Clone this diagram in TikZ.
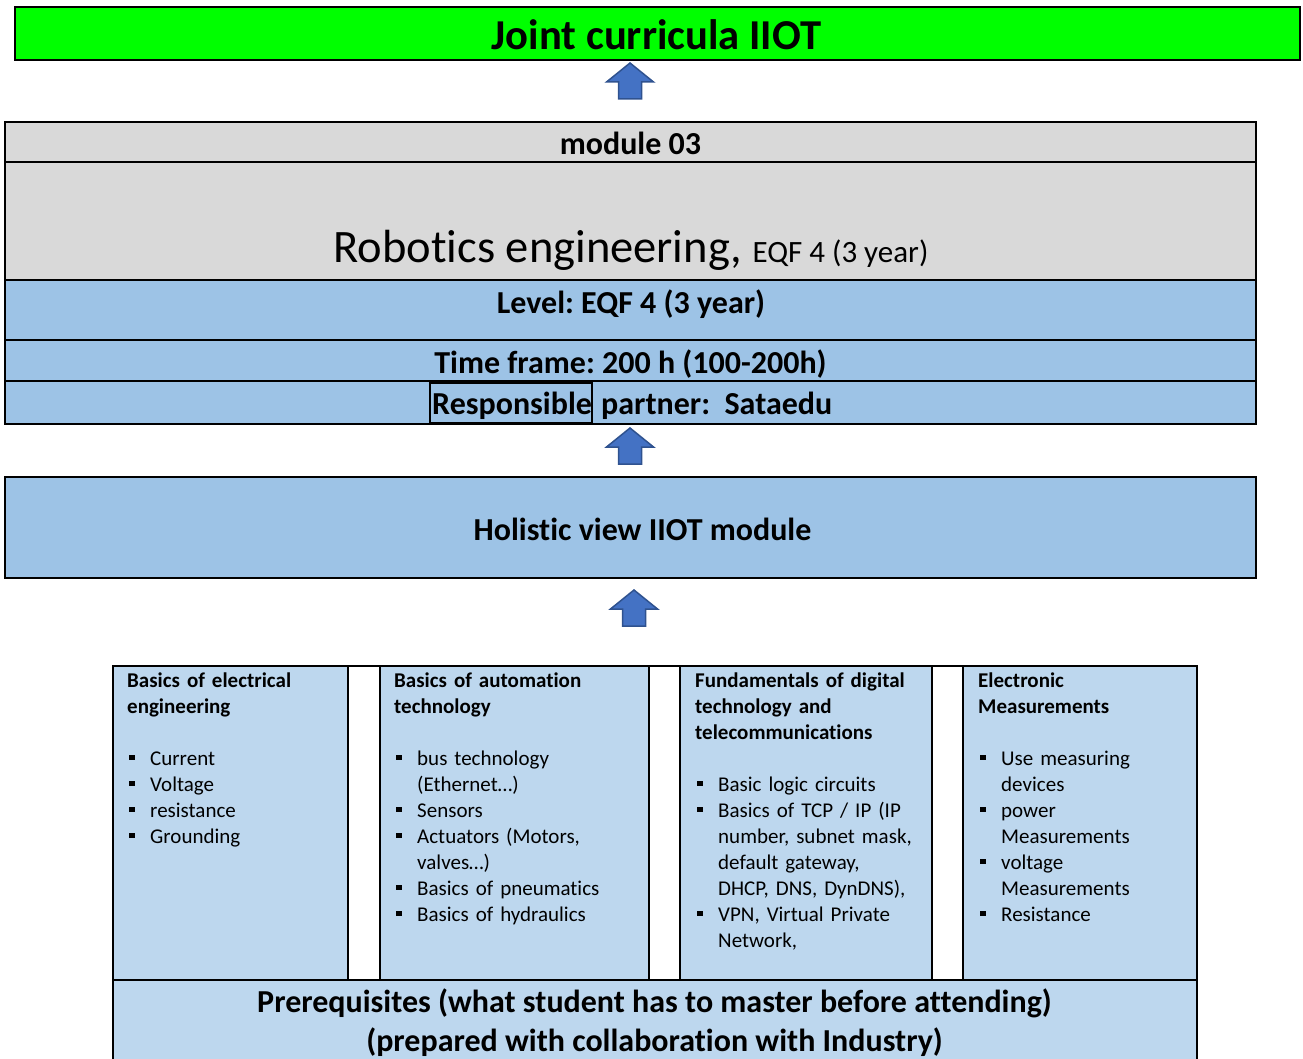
\documentclass[tikz,border=0pt]{standalone}
\usepackage{fontspec}
\setmainfont{Carlito}[Ligatures=NoCommon]
\frenchspacing

\definecolor{topgreen}{HTML}{00FF00}
\definecolor{headgray}{HTML}{D9D9D9}
\definecolor{rowblue}{HTML}{9DC3E6}
\definecolor{cellblue}{HTML}{BDD7EE}
\definecolor{arrowfill}{HTML}{4472C4}
\definecolor{arrowline}{HTML}{2F528F}

% square bullet and hanging continuation for the topic lists
\newcommand\bul{\makebox[23pt][l]{\hspace{2pt}\rule[5pt]{5.5pt}{5.5pt}}}
\newcommand\cont{\hspace*{23pt}}

\tikzset{
  boxline/.style={draw=black, line width=2pt},
  bigbold/.style={font=\fontsize{32}{38}\selectfont\bfseries, inner sep=0pt, anchor=base},
  coltext/.style={font=\fontsize{21}{26}\selectfont, text width=250pt, align=left,
                  inner sep=0pt, anchor=base west},
  pics/uparrow/.style={code={
    \draw[fill=arrowfill, draw=arrowline, line width=1.5pt, line join=miter]
      (0,0) -- (23.5,19) -- (11.5,19) -- (11.5,36) -- (-11.5,36)
      -- (-11.5,19) -- (-23.5,19) -- cycle;}}
}

\begin{document}
\begin{tikzpicture}[x=1pt, y=-1pt]
\useasboundingbox (0,0) rectangle (1303,1059);

% title bar
\draw[boxline, fill=topgreen] (15,7) rectangle (1300,60);
\node[inner sep=0pt, anchor=base, font=\fontsize{42.6}{50}\selectfont\bfseries]
  (title) at (656.5,50) {Joint curricula IIOT};

\pic at (630,63) {uparrow};

% module description block
\fill[headgray] (5,122) rectangle (1256,280);
\fill[rowblue] (5,280) rectangle (1256,424);
\draw[boxline] (5,122) rectangle (1256,424);
\draw[boxline] (5,162) -- (1256,162);
\draw[boxline] (5,280) -- (1256,280);
\draw[boxline] (5,340) -- (1256,340);
\draw[boxline] (5,381) -- (1256,381);

\node[bigbold] (modnum) at (630.5,155) {module 03};
\node[inner sep=0pt, anchor=base] (modname) at (631,262)
  {\fontsize{46.5}{54}\selectfont Robotics engineering,
   \fontsize{31}{36}\selectfont EQF 4 (3 year)};
\node[bigbold] (level) at (631,313) {Level: EQF 4 (3 year)};
\node[bigbold] (time) at (630.5,373) {Time frame: 200 h (100-200h)};
\draw[draw=black, line width=1.5pt] (430,383) rectangle (592,423);
\node[bigbold, anchor=base west] (resp) at (432,414) {Responsible};
\node[bigbold, anchor=base west] (partner) at (601,414) {partner:\ \ Sataedu};

\pic at (630,428) {uparrow};

% holistic view
\draw[boxline, fill=rowblue] (5,477) rectangle (1256,578);
\node[bigbold] (holistic) at (642.5,540) {Holistic view IIOT module};

\pic at (634,590) {uparrow};

% prerequisites table
\fill[cellblue] (113,666) rectangle (1197,1066);
\fill[white] (348,666) rectangle (380,980);
\fill[white] (649,666) rectangle (680,980);
\fill[white] (932,666) rectangle (963,980);
\draw[boxline] (113,666) rectangle (1197,1066);
\foreach \xx in {348,380,649,680,932,963}
  \draw[boxline] (\xx,666) -- (\xx,980);
\draw[boxline] (113,980) -- (1197,980);

\node[coltext] (elec) at (127,687) {%
  \textbf{Basics of electrical}\\
  \textbf{engineering}\\
  \mbox{}\\
  \bul Current\\
  \bul Voltage\\
  \bul resistance\\
  \bul Grounding};

\node[coltext] (auto) at (394,687) {%
  \textbf{Basics of automation}\\
  \textbf{technology}\\
  \mbox{}\\
  \bul bus technology\\
  \cont (Ethernet…)\\
  \bul Sensors\\
  \bul Actuators (Motors,\\
  \cont valves…)\\
  \bul Basics of pneumatics\\
  \bul Basics of hydraulics};

\node[coltext] (digi) at (695,687) {%
  \textbf{Fundamentals of digital}\\
  \textbf{technology and}\\
  \textbf{telecommunications}\\
  \mbox{}\\
  \bul Basic logic circuits\\
  \bul Basics of TCP / IP (IP\\
  \cont number, subnet mask,\\
  \cont default gateway,\\
  \cont DHCP, DNS, DynDNS),\\
  \bul VPN, Virtual Private\\
  \cont Network,};

\node[coltext] (meas) at (978,687) {%
  \textbf{Electronic}\\
  \textbf{Measurements}\\
  \mbox{}\\
  \bul Use measuring\\
  \cont devices\\
  \bul power\\
  \cont Measurements\\
  \bul voltage\\
  \cont Measurements\\
  \bul Resistance};

\node[bigbold] (prereq) at (654.5,1012)
  {Prerequisites (what student has to master before attending)};
\node[bigbold] (industry) at (654.5,1051)
  {(prepared with collaboration with Industry)};
\end{tikzpicture}
\end{document}
